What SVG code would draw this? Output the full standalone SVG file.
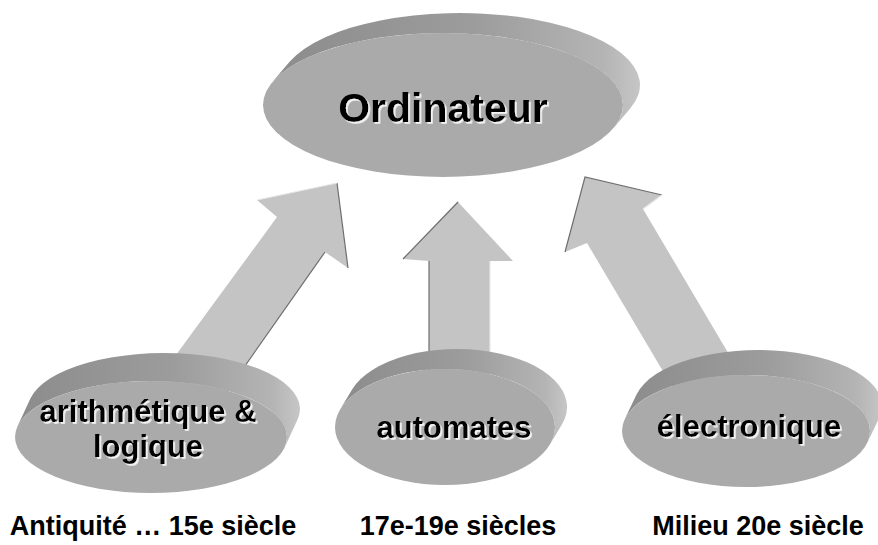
<svg xmlns="http://www.w3.org/2000/svg" width="878" height="545" viewBox="0 0 878 545">
  <defs>
    <linearGradient id="rim" x1="0" y1="0" x2="1" y2="0">
      <stop offset="0" stop-color="#8c8c8c"/>
      <stop offset="0.55" stop-color="#9c9c9c"/>
      <stop offset="0.9" stop-color="#b4b4b4"/>
      <stop offset="1" stop-color="#c6c6c6"/>
    </linearGradient>
    <!-- light offset halo under the bold labels -->
    <filter id="halo" x="-5%" y="-20%" width="110%" height="140%">
      <feDropShadow dx="1.8" dy="1.8" stdDeviation="0.3" flood-color="#f4f4f4" flood-opacity="1"/>
    </filter>
  </defs>
  <style>
    .rim { fill: url(#rim); }
    .face { fill: #aaaaaa; }
    .arrow { fill: #c4c4c4; }
    .edge-dark { fill: none; stroke: #6e6e6e; stroke-width: 1.2; }
    .edge-light { fill: none; stroke: #e8e8e8; stroke-width: 1.2; }
    .lbl { font-family: "Liberation Sans", Arial, sans-serif; font-weight: bold; text-anchor: middle; fill: #000000; filter: url(#halo); }
    .era { font-family: "Liberation Sans", Arial, sans-serif; font-weight: bold; font-size: 27px; fill: #000000; text-anchor: middle; }
  </style>

  <!-- block arrows pointing up to the central disc -->
  <g id="connectors">
    <g id="arrow-left">
      <polygon class="arrow" points="337,183 348,268 325,252 221,400 143,400 277,217 257,200"/>
      <polyline class="edge-dark" points="337,183 348,268"/>
      <polyline class="edge-dark" points="325,252 221,400"/>
      <polyline class="edge-light" points="257,200 337,183"/>
    </g>
    <g id="arrow-middle">
      <polygon class="arrow" points="458,202 513,261 490,261 490,400 429,400 429,261 403,259"/>
      <polyline class="edge-dark" points="458,202 403,259"/>
      <polyline class="edge-dark" points="429,261 429,400"/>
      <polyline class="edge-light" points="490,261 490,400"/>
    </g>
    <g id="arrow-right">
      <polygon class="arrow" points="585,177 662,195 643,209 756,400 680,400 587,243 565,252"/>
      <polyline class="edge-dark" points="565,252 585,177 662,195"/>
      <polyline class="edge-light" points="662,195 643,209"/>
    </g>
  </g>

  <!-- central disc -->
  <g id="node-ordinateur">
    <path class="rim" d="M272.6,81.8 L289.6,61.8 A180,72 0 0 1 630.4,108.2 L613.4,128.2 A180,72 0 0 0 272.6,81.8 Z"/>
    <ellipse class="face" cx="443" cy="105" rx="180" ry="72"/>
    <text class="lbl" x="443" y="122" font-size="41">Ordinateur</text>
  </g>

  <!-- lower discs -->
  <g id="node-arithmetique">
    <path class="rim" d="M17.4,426.5 L30.4,398.5 A136,56 0 0 1 297.6,419.5 L284.6,447.5 A136,56 0 0 0 17.4,426.5 Z"/>
    <ellipse class="face" cx="151" cy="437" rx="136" ry="56"/>
    <text class="lbl" font-size="31"><tspan x="148" y="422">arithmétique &amp;</tspan><tspan x="148" y="457">logique</tspan></text>
  </g>

  <g id="node-automates">
    <path class="rim" d="M340.1,409.5 L352.1,389.5 A110,58 0 0 1 561.9,424.5 L549.9,444.5 A110,58 0 0 0 340.1,409.5 Z"/>
    <ellipse class="face" cx="445" cy="427" rx="110" ry="58"/>
    <text class="lbl" x="454" y="438" font-size="31">automates</text>
  </g>

  <g id="node-electronique">
    <path class="rim" d="M624.8,419.1 L636.8,394.1 A124,56 0 0 1 879.2,417.9 L867.2,442.9 A124,56 0 0 0 624.8,419.1 Z"/>
    <ellipse class="face" cx="746" cy="431" rx="124" ry="56"/>
    <text class="lbl" x="749" y="437" font-size="31">électronique</text>
  </g>

  <!-- period captions -->
  <g id="captions">
    <text class="era" x="153" y="535">Antiquité … 15e siècle</text>
    <text class="era" x="458" y="535">17e-19e siècles</text>
    <text class="era" x="758" y="535">Milieu 20e siècle</text>
  </g>
</svg>
